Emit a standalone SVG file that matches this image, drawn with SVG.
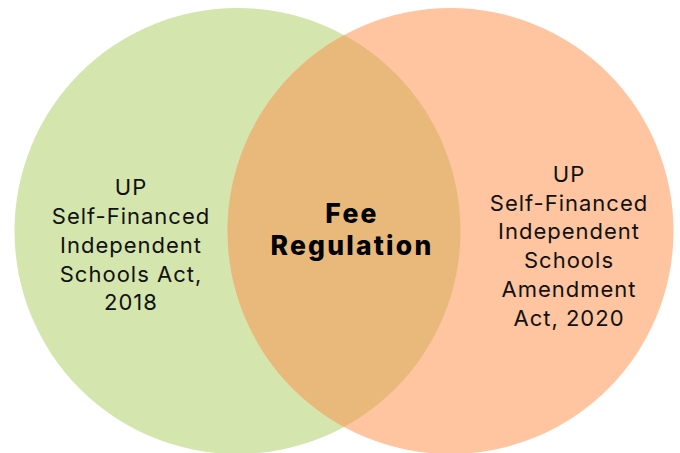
<svg xmlns="http://www.w3.org/2000/svg" width="680" height="453" viewBox="0 0 680 453">
  <style>
    .label { font-family: Inter, "Open Sans", "Liberation Sans", sans-serif; font-size: 22px; letter-spacing: 1px; fill: #111; text-anchor: middle; }
    .core { font-family: Inter, "Open Sans", "Liberation Sans", sans-serif; font-size: 26.5px; letter-spacing: 2.2px; font-weight: 800; fill: #000; text-anchor: middle; }
  </style>
  <defs>
    <clipPath id="leftClip">
      <circle cx="237.5" cy="231" r="223"/>
    </clipPath>
  </defs>
  <rect width="680" height="453" fill="#ffffff"/>
  <g id="act-2018">
    <circle cx="237.5" cy="231" r="223" fill="#d4e5ad"/>
    <text class="label" x="131" y="195">UP</text>
    <text class="label" x="131" y="224">Self-Financed</text>
    <text class="label" x="131" y="253">Independent</text>
    <text class="label" x="131" y="282">Schools Act,</text>
    <text class="label" x="131" y="310">2018</text>
  </g>
  <g id="amendment-2020">
    <circle cx="450.5" cy="231" r="223" fill="#fec5a0"/>
    <text class="label" x="569" y="182">UP</text>
    <text class="label" x="569" y="211">Self-Financed</text>
    <text class="label" x="569" y="239">Independent</text>
    <text class="label" x="569" y="268">Schools</text>
    <text class="label" x="569" y="297">Amendment</text>
    <text class="label" x="569" y="326">Act, 2020</text>
  </g>
  <g id="fee-regulation">
    <circle cx="450.5" cy="231" r="223" fill="#e8b97a" clip-path="url(#leftClip)"/>
    <text class="core" x="352" y="223">Fee</text>
    <text class="core" x="352" y="255">Regulation</text>
  </g>
</svg>
